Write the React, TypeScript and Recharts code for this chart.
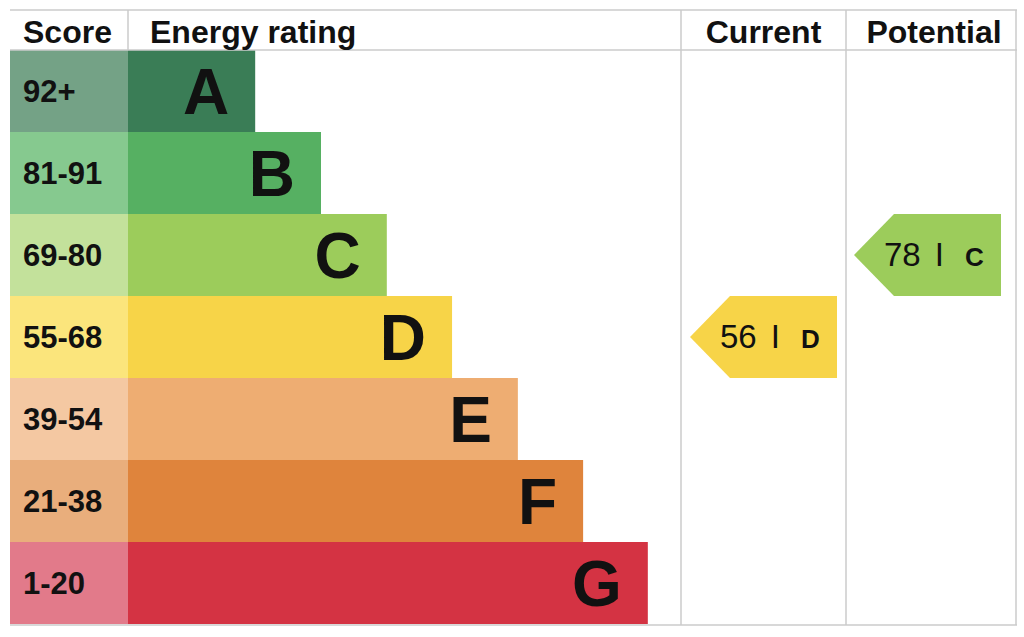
import { BarChart, Bar, XAxis, YAxis } from "recharts";

// energy bands, top (best) to bottom
const bands = ["A", "B", "C", "D", "E", "F", "G"];
const scoreRanges = ["92+", "81-91", "69-80", "55-68", "39-54", "21-38", "1-20"];
// bar length as % of the "Energy rating" column
const bandLengths = [23, 34.9, 46.8, 58.6, 70.5, 82.3, 94];
const bandColors = ["#3a7d56", "#56b062", "#9ccc5b", "#f7d448", "#eead72", "#df843c", "#d43343"];
const scoreColors = ["#74a286", "#86c98f", "#c3e19b", "#fbe57c", "#f4c8a2", "#e9ae7c", "#e27a8a"];

const currentScore = 56;
const currentBand = "D";
const potentialScore = 78;
const potentialBand = "C";

const W = 1024;
const H = 637;
const FONT = "'Liberation Sans', Arial, Helvetica, sans-serif";
const LINE = "#cbcbcb";

// table layout
const LEFT = 10;
const TOP = 10;
const HEAD = 50;
const SCORE_COL = 128;
const CUR_COL = 681;
const POT_COL = 846;
const RIGHT = 1016;
const BOTTOM = 624;

const data = bands.map((band, i) => ({
  band,
  score: scoreRanges[i],
  length: bandLengths[i],
  color: bandColors[i],
  scoreColor: scoreColors[i],
  current: band === currentBand ? currentScore : null,
  potential: band === potentialBand ? potentialScore : null,
}));

function Arrow({ tip, right, y, h, color, value, band }: any) {
  const cy = y + h / 2;
  return (
    <g>
      <polygon
        points={`${tip},${cy} ${tip + 40},${y} ${right},${y} ${right},${y + h} ${tip + 40},${y + h}`}
        fill={color}
      />
      <text x={tip + 30} y={cy + 11} fontSize={33} fontFamily={FONT} fill="#111">
        {value}
      </text>
      <text x={tip + 82} y={cy + 6} fontSize={24} fontWeight="bold" fontFamily={FONT} fill="#111">
        |
      </text>
      <text x={tip + 111} y={cy + 11} fontSize={26} fontWeight="bold" fontFamily={FONT} fill="#111">
        {band}
      </text>
    </g>
  );
}

function BandShape(props: any) {
  const { x, y, width, height, payload } = props;
  const cy = y + height / 2;
  return (
    <g>
      <rect x={LEFT} y={y} width={x - LEFT} height={height} fill={payload.scoreColor} />
      <text x={23} y={cy + 11} fontSize={31} fontWeight="bold" fontFamily={FONT} fill="#111">
        {payload.score}
      </text>
      <rect x={x} y={y} width={width} height={height} fill={payload.color} />
      <text
        x={x + width - 26}
        y={cy + 23}
        textAnchor="end"
        fontSize={64}
        fontWeight="bold"
        fontFamily={FONT}
        fill="#111"
      >
        {payload.band}
      </text>
      {payload.current != null && (
        <Arrow tip={CUR_COL + 9} right={POT_COL - 9} y={y} h={height} color={payload.color} value={payload.current} band={payload.band} />
      )}
      {payload.potential != null && (
        <Arrow tip={POT_COL + 8} right={RIGHT - 15} y={y} h={height} color={payload.color} value={payload.potential} band={payload.band} />
      )}
    </g>
  );
}

export default function App() {
  const headStyle = { fontFamily: FONT, fontWeight: "bold" as const, fontSize: 32, fill: "#111" };
  return (
    <div style={{ position: "absolute", left: 0, top: 0, width: W, height: H, background: "#fff" }}>
      <BarChart
        width={W}
        height={H}
        data={data}
        layout="vertical"
        barCategoryGap={0}
        margin={{ top: HEAD, bottom: H - BOTTOM, left: SCORE_COL, right: W - CUR_COL }}
      >
        <XAxis type="number" domain={[0, 100]} hide />
        <YAxis type="category" dataKey="band" hide />
        <Bar dataKey="length" isAnimationActive={false} shape={<BandShape />} />
      </BarChart>
      <svg
        width={W}
        height={H}
        style={{ position: "absolute", left: 0, top: 0, pointerEvents: "none" }}
      >
        <g stroke={LINE} strokeWidth={1.5}>
          <line x1={LEFT} y1={TOP} x2={RIGHT + 1} y2={TOP} />
          <line x1={LEFT} y1={HEAD} x2={RIGHT + 1} y2={HEAD} />
          <line x1={LEFT} y1={BOTTOM + 1} x2={RIGHT + 1} y2={BOTTOM + 1} />
          <line x1={SCORE_COL} y1={TOP} x2={SCORE_COL} y2={HEAD} />
          <line x1={CUR_COL} y1={TOP} x2={CUR_COL} y2={BOTTOM + 1} />
          <line x1={POT_COL} y1={TOP} x2={POT_COL} y2={BOTTOM + 1} />
          <line x1={RIGHT} y1={TOP} x2={RIGHT} y2={BOTTOM + 1} />
        </g>
        <text x={23} y={43} {...headStyle}>Score</text>
        <text x={150} y={43} {...headStyle}>Energy rating</text>
        <text x={(CUR_COL + POT_COL) / 2} y={43} textAnchor="middle" {...headStyle}>Current</text>
        <text x={(POT_COL + RIGHT) / 2 + 3} y={43} textAnchor="middle" {...headStyle}>Potential</text>
      </svg>
    </div>
  );
}
